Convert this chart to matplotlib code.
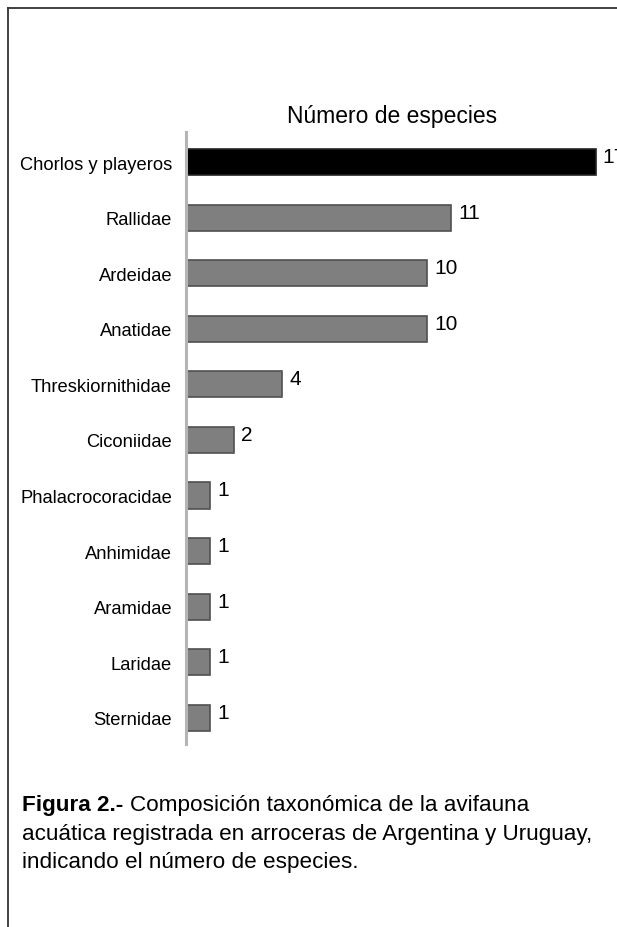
import matplotlib
matplotlib.use("Agg")
import matplotlib.pyplot as plt
from matplotlib.lines import Line2D

categories = ["Chorlos y playeros", "Rallidae", "Ardeidae", "Anatidae",
              "Threskiornithidae", "Ciconiidae", "Phalacrocoracidae",
              "Anhimidae", "Aramidae", "Laridae", "Sternidae"]
values = [17, 11, 10, 10, 4, 2, 1, 1, 1, 1, 1]
title = "Número de especies"
caption_bold = "Figura 2.-"
caption_lines = ["Composición taxonómica de la avifauna",
                 "acuática registrada en arroceras de Argentina y Uruguay,",
                 "indicando el número de especies."]

reg = "Liberation Sans"

W, H = 617, 928
fig = plt.figure(figsize=(W / 100, H / 100), dpi=100)

def fx(px):
    return px / W

def fy(py):
    return 1 - py / H

# border: left and top lines
fig.add_artist(Line2D([fx(8), fx(8)], [fy(9), 0], color="#333333", lw=1.3))
fig.add_artist(Line2D([fx(8), 1], [fy(9), fy(9)], color="#333333", lw=1.3))

ax_left, ax_top, ax_bottom = 186, 133, 745
ax = fig.add_axes([fx(ax_left), fy(ax_bottom), 1 - fx(ax_left), fy(ax_top) - fy(ax_bottom)])
ax.set_facecolor("none")
scale = 24.1
ax.set_xlim(0, (W - ax_left) / scale)
y = list(range(len(categories)))
colors = ["#000000"] + ["#7f7f7f"] * (len(categories) - 1)
edges = ["#222222"] + ["#505050"] * (len(categories) - 1)
ax.barh(y, values, height=0.47, color=colors, edgecolor=edges, linewidth=1.2)
ax.set_ylim(10.47, -0.54)
ax.set_yticks(y)
ax.set_yticklabels(categories, fontsize=13.2, family=reg)
ax.tick_params(axis="y", length=0, pad=10)
ax.set_xticks([])
for s in ["top", "right", "bottom"]:
    ax.spines[s].set_visible(False)
ax.spines["left"].set_color("#b5b5b5")
ax.spines["left"].set_linewidth(2.2)

for yi, v in zip(y, values):
    ax.annotate(str(v), (v, yi), xytext=(5, 4), textcoords="offset points",
                va="center", ha="left", fontsize=15, family=reg, annotation_clip=False)

fig.text(fx(392), fy(117), title, ha="center", va="center", fontsize=16.5, family=reg)

# caption
x0, y0, dy = 22, 806, 28.5
fs_cap = 16.2
t = fig.text(fx(x0), fy(y0), caption_bold + " ", ha="left", va="center",
             fontsize=fs_cap, family=reg, weight="bold")
fig.canvas.draw()
bb = t.get_window_extent()
fig.text(bb.x1 / W, fy(y0), caption_lines[0], ha="left", va="center", fontsize=fs_cap, family=reg)
for i, line in enumerate(caption_lines[1:], start=1):
    fig.text(fx(x0), fy(y0 + i * dy), line, ha="left", va="center", fontsize=fs_cap, family=reg)

fig.savefig("out.png", dpi=100)
